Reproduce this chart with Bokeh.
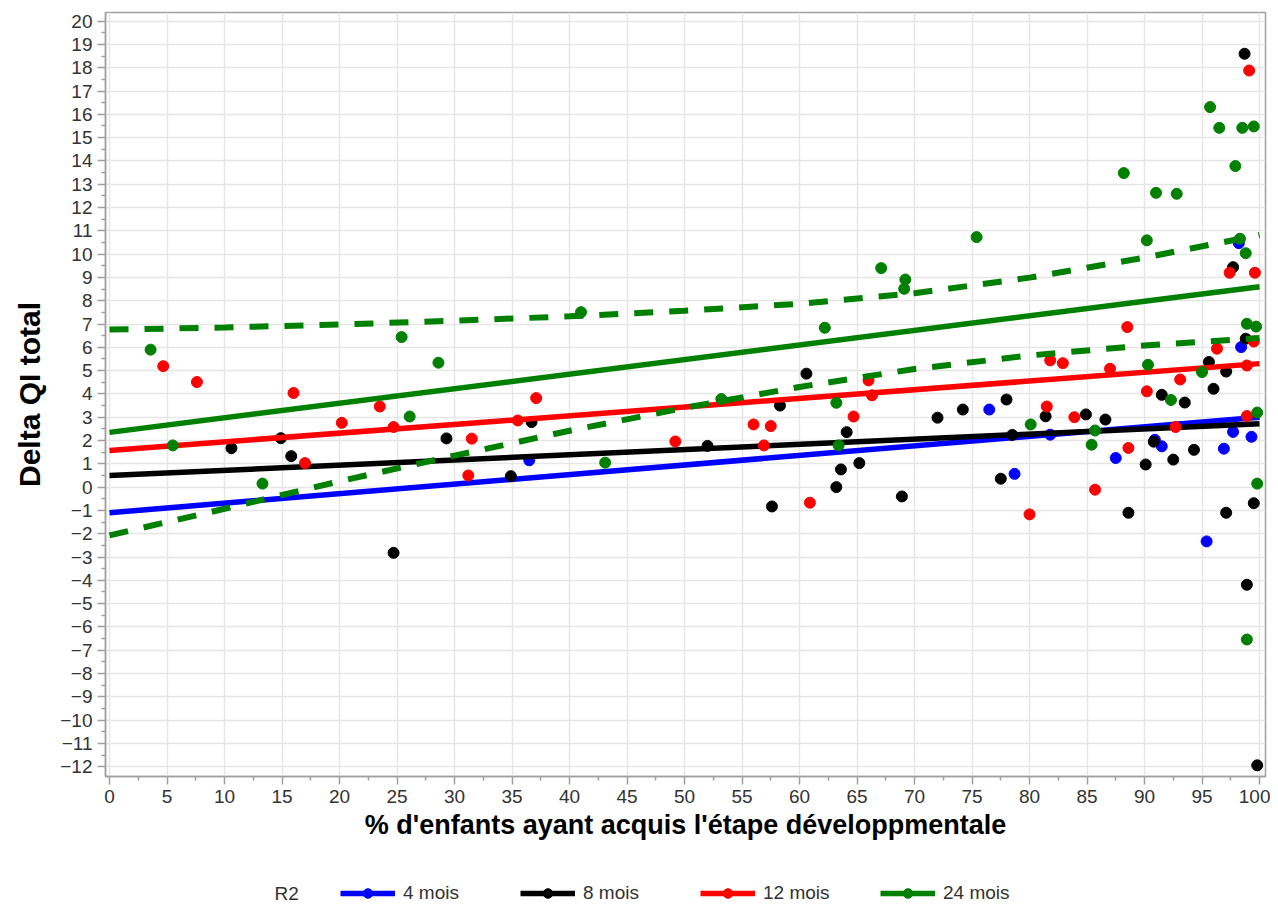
from bokeh.plotting import figure
from bokeh.layouts import column
from bokeh.models import Range1d, FixedTicker, Legend, LegendItem, Label
from bokeh.embed import file_html
from bokeh.resources import INLINE

# ---------------- data ----------------
groups = ["4 mois", "8 mois", "12 mois", "24 mois"]
colors = ["#0000ff", "#000000", "#ff0000", "#008000"]
legend_title = "R2"

x_ticks = list(range(0, 101, 5))
y_ticks = list(range(-12, 21))

x_4m = [36.5, 76.5, 78.7, 81.8, 87.5, 90.9, 91.5, 95.4, 96.9, 97.7, 98.2, 98.4, 99.3]
y_4m = [1.15, 3.33, 0.57, 2.25, 1.25, 2.03, 1.75, -2.33, 1.65, 2.37, 10.47, 6.01, 2.16]

x_8m = [10.6, 14.9, 15.8, 24.7, 29.3, 34.9, 36.7, 52.0, 57.6, 58.3, 60.6, 63.2, 63.6,
        64.1, 65.2, 68.9, 72.0, 74.2, 77.5, 78.0, 78.5, 81.4, 84.9, 86.6, 88.6, 90.1,
        90.8, 91.5, 92.5, 93.5, 94.3, 95.6, 96.0, 97.1, 97.1, 97.7, 98.7, 98.8, 98.9,
        99.5, 99.8]
y_8m = [1.67, 2.10, 1.33, -2.82, 2.09, 0.47, 2.79, 1.77, -0.83, 3.50, 4.87, 0.00, 0.76,
        2.36, 1.03, -0.40, 2.98, 3.33, 0.36, 3.76, 2.24, 3.04, 3.12, 2.90, -1.10, 0.97,
        1.95, 3.96, 1.18, 3.63, 1.60, 5.37, 4.22, -1.10, 4.96, 9.44, 18.60, 6.37, -4.19,
        -0.69, -11.94]

x_12m = [4.67, 7.6, 16.0, 17.0, 20.2, 23.5, 24.7, 31.2, 31.5, 35.5, 37.1, 49.2, 56.0,
         56.9, 57.5, 60.9, 64.7, 66.0, 66.3, 80.0, 81.5, 81.8, 82.9, 83.9, 85.7, 87.0,
         88.5, 88.6, 90.2, 92.7, 93.1, 96.3, 97.4, 98.9, 98.9, 99.1, 99.5, 99.6]
y_12m = [5.19, 4.51, 4.04, 1.03, 2.76, 3.46, 2.58, 0.50, 2.08, 2.86, 3.82, 1.96, 2.69,
         1.79, 2.62, -0.67, 3.03, 4.58, 3.94, -1.17, 3.46, 5.44, 5.32, 3.00, -0.11, 5.08,
         6.87, 1.68, 4.11, 2.58, 4.62, 5.94, 9.20, 5.22, 3.05, 17.88, 6.25, 9.20]

x_24m = [3.57, 5.5, 13.3, 25.4, 26.1, 28.6, 41.0, 43.1, 53.2, 62.2, 63.2, 63.4, 67.1,
         69.2, 69.1, 75.4, 80.1, 85.4, 85.7, 88.2, 90.2, 90.3, 91.0, 92.3, 92.8, 95.0,
         95.7, 96.5, 97.9, 98.3, 98.5, 98.8, 98.9, 98.9, 99.5, 99.7, 99.8, 99.8]
y_24m = [5.90, 1.79, 0.15, 6.44, 3.03, 5.34, 7.51, 1.05, 3.78, 6.84, 3.62, 1.79, 9.40,
         8.91, 8.51, 10.73, 2.69, 1.82, 2.43, 13.48, 10.59, 5.25, 12.63, 3.74, 12.59, 4.94,
         16.31, 15.42, 13.78, 10.66, 15.42, 10.04, 7.01, -6.54, 15.48, 6.89, 3.20, 0.15]

# regression lines (end points)
fit_x = [0, 100]
fit_4m = [-1.10, 3.00]
fit_8m = [0.50, 2.72]
fit_12m = [1.57, 5.30]
fit_24m = [2.35, 8.60]

# 95% confidence limits of the 24-month fit
ci_x = [0, 10, 20, 30, 40, 50, 60, 70, 80, 90, 100]
ci_upper = [6.76, 6.85, 6.98, 7.14, 7.33, 7.57, 7.87, 8.32, 8.99, 9.85, 10.82]
ci_lower = [-2.07, -0.93, 0.25, 1.35, 2.42, 3.40, 4.30, 5.07, 5.65, 6.08, 6.40]

xs = [x_4m, x_8m, x_12m, x_24m]
ys = [y_4m, y_8m, y_12m, y_24m]
fits = [fit_4m, fit_8m, fit_12m, fit_24m]

# ---------------- main figure ----------------
FONT = "Liberation Sans"
p = figure(frame_width=1160, frame_height=764,
           x_range=Range1d(-0.35, 100.52), y_range=Range1d(-12.42, 20.37),
           output_backend="svg", toolbar_location=None,
           min_border_left=105, min_border_right=5, min_border_top=12, min_border_bottom=94)

p.background_fill_color = "white"
p.border_fill_color = "white"
p.outline_line_color = "#a0a0a0"
p.outline_line_width = 1.5

p.xaxis.ticker = FixedTicker(ticks=x_ticks, minor_ticks=[t + 2.5 for t in x_ticks[:-1]])
p.yaxis.ticker = FixedTicker(ticks=y_ticks, minor_ticks=[t + 0.5 for t in y_ticks[:-1]])

p.xaxis.axis_label = "% d'enfants ayant acquis l'étape développmentale"
p.yaxis.axis_label = "Delta QI total"

for ax in (p.xaxis[0], p.yaxis[0]):
    ax.axis_line_color = "#a0a0a0"
    ax.axis_line_width = 1.5
    ax.major_tick_line_color = "#a0a0a0"
    ax.minor_tick_line_color = "#a0a0a0"
    ax.major_tick_line_width = 1.5
    ax.minor_tick_line_width = 1.5
    ax.major_tick_in = 0
    ax.major_tick_out = 8
    ax.minor_tick_in = 0
    ax.minor_tick_out = 4
    ax.major_label_text_font = FONT
    ax.major_label_text_font_size = "19px"
    ax.major_label_text_color = "#333333"
    ax.major_label_standoff = 5
    ax.axis_label_text_font = FONT
    ax.axis_label_text_font_style = "bold"
    ax.axis_label_text_color = "black"

p.xaxis.axis_label_text_font_size = "27px"
p.yaxis.axis_label_text_font_size = "30px"
p.yaxis.axis_label_standoff = 11
p.xaxis.axis_label_standoff = 4

p.grid.grid_line_color = "#e6e6e6"
p.grid.grid_line_width = 1.5

for c, x, y, f in zip(colors, xs, ys, fits):
    p.scatter(x, y, marker="circle", size=11, color=c)
    p.line(fit_x, f, line_width=5.5, color=c)

p.line(ci_x, ci_upper, line_width=6, color=colors[3], line_dash="19 16")
p.line(ci_x, ci_lower, line_width=6, color=colors[3], line_dash="19 16")

# ---------------- legend strip (frame aligned with the main frame) ----------------
leg = figure(width=1270, height=35, min_border=0, output_backend="svg",
             toolbar_location=None, x_axis_location=None, y_axis_location=None,
             x_range=Range1d(0, 1), y_range=Range1d(0, 1))
leg.grid.visible = False
leg.outline_line_color = None
leg.background_fill_color = "white"
leg.border_fill_color = "white"

# proxy renderers for the legend keys: their data lie outside the strip's range
key_x = [5, 6]
key_y = [5, 6]
items = []
for g, c in zip(groups, colors):
    lr = leg.line(key_x, key_y, line_width=5.5, color=c)
    sr = leg.scatter(key_x, key_y, marker="circle", size=10, color=c)
    items.append(LegendItem(label=g, renderers=[lr, sr]))

legend = Legend(items=items, orientation="horizontal", location=(235, 0),
                glyph_width=55, glyph_height=24, label_standoff=8, label_width=100,
                spacing=17, padding=0, margin=0, border_line_color=None,
                background_fill_alpha=0, label_text_font=FONT,
                label_text_font_size="19px", label_text_color="#333333")
leg.add_layout(legend)

leg.add_layout(Label(x=169, y=12, x_units="screen", y_units="screen", text=legend_title,
                     text_baseline="middle", text_align="left", text_font=FONT,
                     text_font_size="19px", text_color="#333333"))

layout = column(p, leg, spacing=0)
open("out.html", "w").write(file_html(layout, INLINE))
